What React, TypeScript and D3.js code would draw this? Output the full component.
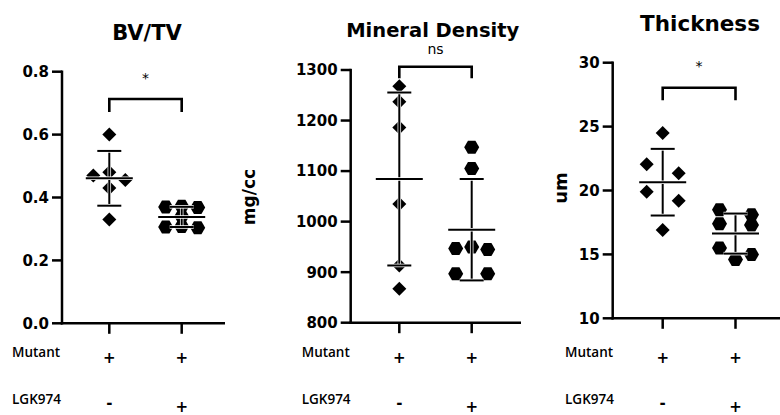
import React from "react";
import * as d3 from "d3";

// Treatment rows under each panel
const mutantRow = ["+", "+"];
const lgkRow = ["-", "+"];
const groupKeys = ["vehicle", "lgk974"];

// Individual animals per group
const bvtvVehicle = [0.6, 0.48, 0.47, 0.456, 0.43, 0.33];
const bvtvLgk = [0.372, 0.37, 0.368, 0.34, 0.308, 0.306, 0.304];
const densityVehicle = [1268, 1237, 1186, 1035, 913, 867];
const densityLgk = [1147, 1105, 950, 947, 945, 897, 897];
const thicknessVehicle = [24.5, 22.05, 21.35, 19.9, 19.2, 16.9];
const thicknessLgk = [18.5, 18.1, 17.4, 17.3, 15.5, 15.0, 14.6];

// Axis ticks
const bvtvTicks = [0, 0.2, 0.4, 0.6, 0.8];
const densityTicks = [800, 900, 1000, 1100, 1200, 1300];
const thicknessTicks = [10, 15, 20, 25, 30];

const W = 780;
const H = 415;
const BOLD = "'DejaVu Sans', sans-serif";
const ROW = "'Open Sans', sans-serif";

type Panel = {
  title: string;
  titleX: number;
  titleY: number;
  titleSize: number;
  yLabel?: string;
  yLabelX?: number;
  yLabelY?: number;
  yLabelSize?: number;
  groups: number[][];
  domain: [number, number];
  ticks: number[];
  fmt: (v: number) => string;
  axisX: number;
  top: number;
  bottom: number;
  cat0: number;
  cat1: number;
  xEnd: number;
  sig: string;
  sigY: number;
  bracketTop: number;
  bracketLeg: number;
  rowX: number;
};

const panels: Panel[] = [
  {
    title: "BV/TV", titleX: 147, titleY: 39.5, titleSize: 21,
    groups: [bvtvVehicle, bvtvLgk], domain: [0, 0.8], ticks: bvtvTicks,
    fmt: d3.format(".1f"),
    axisX: 62, top: 71.7, bottom: 323.3, cat0: 109.3, cat1: 181.7, xEnd: 225,
    sig: "*", sigY: 76, bracketTop: 99, bracketLeg: 13, rowX: 12,
  },
  {
    title: "Mineral Density", titleX: 432.7, titleY: 36.7, titleSize: 19.5,
    yLabel: "mg/cc", yLabelX: 255, yLabelY: 197, yLabelSize: 17,
    groups: [densityVehicle, densityLgk], domain: [800, 1300], ticks: densityTicks,
    fmt: d3.format("d"),
    axisX: 350.7, top: 70, bottom: 322.7, cat0: 399.3, cat1: 471.7, xEnd: 521,
    sig: "ns", sigY: 50, bracketTop: 66.7, bracketLeg: 11.5, rowX: 301.7,
  },
  {
    title: "Thickness", titleX: 700, titleY: 31, titleSize: 21.5,
    yLabel: "um", yLabelX: 567, yLabelY: 188, yLabelSize: 18,
    groups: [thicknessVehicle, thicknessLgk], domain: [10, 30], ticks: thicknessTicks,
    fmt: d3.format("d"),
    axisX: 612.7, top: 62.7, bottom: 318.3, cat0: 662.7, cat1: 735.5, xEnd: 782,
    sig: "*", sigY: 64, bracketTop: 87.7, bracketLeg: 12.5, rowX: 565,
  },
];

// Spread points that share a row of the y axis sideways, GraphPad style
function rowOffsets(ys: number[], step: number, band: number): number[] {
  const order = d3.range(ys.length).sort((a, b) => ys[a] - ys[b]);
  const dx = new Array(ys.length).fill(0);
  let i = 0;
  while (i < order.length) {
    const start = ys[order[i]];
    let j = i;
    while (j < order.length && ys[order[j]] - start < band) j++;
    const members = order.slice(i, j);
    const slots: number[] = members.length % 2 ? [0] : [];
    for (let k = 1; slots.length < members.length; k++) slots.push(-k * step, k * step);
    members.forEach((m, idx) => (dx[m] = slots[idx]));
    i = j;
  }
  return dx;
}

const diamondPath = d3.symbol(d3.symbolSquare, 98)() as string;
const hexRadius = 7.5;
const hexagonPath =
  (d3.line()(
    d3.range(6).map((k) => [hexRadius * Math.cos((k * Math.PI) / 3), hexRadius * Math.sin((k * Math.PI) / 3)] as [number, number])
  ) as string) + "Z";

function Halo({ x1, y1, x2, y2, w = 2 }: { x1: number; y1: number; x2: number; y2: number; w?: number }) {
  return (
    <g>
      <line x1={x1} y1={y1} x2={x2} y2={y2} stroke="#fff" strokeWidth={w + 1.5} />
      <line x1={x1} y1={y1} x2={x2} y2={y2} stroke="#000" strokeWidth={w} />
    </g>
  );
}

function PanelView({ p }: { p: Panel }) {
  const y = d3.scaleLinear().domain(p.domain).range([p.bottom, p.top]);
  const x = d3.scalePoint<string>().domain(groupKeys).range([p.cat0, p.cat1]);
  const axisW = 2.5;

  return (
    <g>
      <text x={p.titleX} y={p.titleY} textAnchor="middle" fontFamily={BOLD} fontWeight="bold" fontSize={p.titleSize}>
        {p.title}
      </text>
      {p.yLabel && (
        <text
          transform={`translate(${p.yLabelX},${p.yLabelY}) rotate(-90)`}
          textAnchor="middle"
          fontFamily={BOLD}
          fontWeight="bold"
          fontSize={p.yLabelSize}
        >
          {p.yLabel}
        </text>
      )}

      {/* y axis */}
      <line x1={p.axisX} x2={p.axisX} y1={p.top - 1.2} y2={p.bottom + 1.2} stroke="#000" strokeWidth={axisW} />
      {p.ticks.map((t) => (
        <g key={t}>
          <line x1={p.axisX - 10} x2={p.axisX} y1={y(t)} y2={y(t)} stroke="#000" strokeWidth={axisW} />
          <text
            x={p.axisX - 13}
            y={y(t)}
            dy="0.36em"
            textAnchor="end"
            fontFamily={BOLD}
            fontWeight="bold"
            fontSize={15}
          >
            {p.fmt(t)}
          </text>
        </g>
      ))}

      {/* x axis */}
      <line x1={p.axisX - 1.2} x2={p.xEnd} y1={p.bottom} y2={p.bottom} stroke="#000" strokeWidth={axisW} />
      {groupKeys.map((g) => (
        <line key={g} x1={x(g)!} x2={x(g)!} y1={p.bottom} y2={p.bottom + 10.5} stroke="#000" strokeWidth={axisW} />
      ))}

      {/* significance bracket */}
      <path
        d={`M${x(groupKeys[0])},${p.bracketTop + p.bracketLeg}V${p.bracketTop}H${x(groupKeys[1])}V${p.bracketTop + p.bracketLeg}`}
        fill="none"
        stroke="#000"
        strokeWidth={2.6}
      />
      {p.sig === "*" ? (
        <text
          x={(x(groupKeys[0])! + x(groupKeys[1])!) / 2}
          y={p.sigY + 7.4}
          textAnchor="middle"
          fontFamily="'DejaVu Sans', sans-serif"
          fontSize={14}
        >
          {p.sig}
        </text>
      ) : (
        <text
          x={(x(groupKeys[0])! + x(groupKeys[1])!) / 2}
          y={p.sigY + 3.8}
          textAnchor="middle"
          fontFamily="'DejaVu Sans', sans-serif"
          fontSize={14}
        >
          {p.sig}
        </text>
      )}

      {/* points, mean and SD */}
      {p.groups.map((vals, gi) => {
        const cx = x(groupKeys[gi])!;
        const ys = vals.map((v) => y(v));
        const dx = rowOffsets(ys, 16, 9.5);
        const m = d3.mean(vals)!;
        const sd = d3.deviation(vals)!;
        const path = gi === 0 ? diamondPath : hexagonPath;
        const rot = gi === 0 ? " rotate(45)" : "";
        return (
          <g key={gi}>
            {vals.map((v, i) => (
              <path key={i} d={path} transform={`translate(${cx + dx[i]},${ys[i]})${rot}`} fill="#000" />
            ))}
            <Halo x1={cx} x2={cx} y1={y(m + sd)} y2={y(m - sd)} />
            <Halo x1={cx - 12} x2={cx + 12} y1={y(m + sd)} y2={y(m + sd)} />
            <Halo x1={cx - 12} x2={cx + 12} y1={y(m - sd)} y2={y(m - sd)} />
            <Halo x1={cx - 23.5} x2={cx + 23.5} y1={y(m)} y2={y(m)} />
          </g>
        );
      })}

      {/* treatment table */}
      <text x={p.rowX} y={356.7} fontFamily={ROW} fontWeight={600} fontSize={13.5}>
        Mutant
      </text>
      <text x={p.rowX} y={404} fontFamily={ROW} fontWeight={600} fontSize={13.5}>
        LGK974
      </text>
      {groupKeys.map((g, gi) => (
        <g key={g}>
          <text x={x(g)} y={363.4} textAnchor="middle" fontFamily={BOLD} fontWeight="bold" fontSize={15}>
            {mutantRow[gi]}
          </text>
          <text
            x={x(g)}
            y={lgkRow[gi] === "-" ? 407.5 : 412.1}
            textAnchor="middle"
            fontFamily={BOLD}
            fontWeight="bold"
            fontSize={15}
          >
            {lgkRow[gi]}
          </text>
        </g>
      ))}
    </g>
  );
}

export default function App() {
  return (
    <svg
      width={W}
      height={H}
      viewBox={`0 0 ${W} ${H}`}
      style={{ position: "absolute", left: 0, top: 0, background: "#fff" }}
    >
      <rect width={W} height={H} fill="#fff" />
      {panels.map((p) => (
        <PanelView key={p.title} p={p} />
      ))}
    </svg>
  );
}
